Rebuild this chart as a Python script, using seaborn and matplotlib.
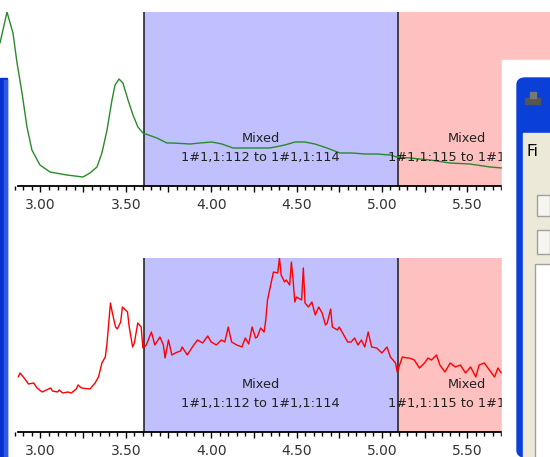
import numpy as np
import matplotlib
matplotlib.use("Agg")
import matplotlib.pyplot as plt
from matplotlib.patches import Rectangle, FancyBboxPatch
from matplotlib.ticker import FixedLocator, MultipleLocator
import seaborn as sns

# Top trace (green)
green_x = [2.763, 2.804, 2.839, 2.862, 2.892, 2.921, 2.950, 2.997, 3.056, 3.155,
           3.249, 3.290, 3.331, 3.360, 3.390, 3.419, 3.437, 3.460, 3.483, 3.513,
           3.542, 3.571, 3.600, 3.682, 3.741, 3.776, 3.876, 3.934, 4.004, 4.063,
           4.128, 4.198, 4.274, 4.344, 4.432, 4.491, 4.549, 4.608, 4.678, 4.755,
           4.825, 4.901, 4.971, 5.048, 5.089, 5.165, 5.282, 5.399, 5.516, 5.634,
           5.704]
green_y = [143, 174, 153, 124, 93, 59, 36, 21, 14, 11,
           9, 13, 19, 33, 56, 86, 101, 107, 103, 86,
           71, 59, 53, 48, 43, 43, 42, 43, 44, 42,
           38, 38, 38, 38, 41, 44, 44, 42, 38, 33,
           33, 32, 32, 31, 29, 28, 26, 23, 22, 19,
           18]

# Bottom trace (red)
red_x = [2.87, 2.88, 2.90, 2.93, 2.96, 2.98, 3.01, 3.06, 3.07, 3.10,
         3.11, 3.13, 3.16, 3.18, 3.21, 3.22, 3.24, 3.29, 3.32, 3.34,
         3.36, 3.38, 3.39, 3.41, 3.42, 3.44, 3.45, 3.47, 3.48, 3.51,
         3.52, 3.54, 3.55, 3.57, 3.59, 3.60, 3.62, 3.65, 3.67, 3.70,
         3.72, 3.73, 3.75, 3.77, 3.79, 3.82, 3.83, 3.86, 3.89, 3.92,
         3.95, 3.98, 4.00, 4.03, 4.06, 4.08, 4.10, 4.12, 4.15, 4.18,
         4.20, 4.22, 4.24, 4.26, 4.27, 4.29, 4.31, 4.32, 4.33, 4.355,
         4.365, 4.39, 4.40, 4.41, 4.43, 4.44, 4.46, 4.47, 4.48, 4.49,
         4.50, 4.53, 4.54, 4.55, 4.57, 4.59, 4.61, 4.63, 4.65, 4.67,
         4.68, 4.70, 4.71, 4.74, 4.75, 4.77, 4.80, 4.82, 4.84, 4.86,
         4.88, 4.90, 4.92, 4.94, 4.97, 5.00, 5.03, 5.05, 5.08, 5.09,
         5.11, 5.12, 5.15, 5.16, 5.19, 5.22, 5.25, 5.27, 5.29, 5.32,
         5.34, 5.37, 5.40, 5.43, 5.46, 5.49, 5.52, 5.55, 5.57, 5.60,
         5.63, 5.66, 5.68, 5.70]
red_y = [55, 59, 55, 48, 49, 44, 40, 44, 41, 40,
         42, 39, 40, 39, 43, 47, 44, 43, 49, 55,
         69, 75, 89, 129, 120, 105, 103, 110, 125, 120,
         105, 85, 89, 109, 105, 84, 87, 100, 87, 95,
         87, 74, 92, 77, 79, 81, 85, 77, 85, 92,
         89, 96, 90, 87, 92, 90, 105, 90, 87, 85,
         94, 88, 105, 94, 95, 104, 100, 112, 132, 152,
         160, 159, 174, 157, 150, 152, 147, 170, 152, 130,
         135, 132, 164, 129, 125, 130, 117, 125, 119, 107,
         109, 123, 105, 102, 105, 99, 90, 90, 94, 87,
         92, 85, 100, 85, 84, 79, 85, 75, 69, 60,
         70, 75, 74, 74, 72, 64, 69, 74, 72, 77,
         67, 60, 69, 65, 67, 59, 65, 55, 67, 69,
         62, 55, 64, 59]

# Shaded regions
region_start = [3.606, 5.094]
region_end = [5.094, 5.985]
region_color = ["#C0C0FF", "#FFC0C0"]
region_title = ["Mixed", "Mixed"]
region_range = ["1#1,1:112 to 1#1,1:114", "1#1,1:115 to 1#1,1:117"]
region_text_x = [4.29, 5.50]

tick_values = [3.00, 3.50, 4.00, 4.50, 5.00, 5.50]
tick_labels = ["3.00", "3.50", "4.00", "4.50", "5.00", "5.50"]

W, H = 550, 457
sns.set_style("white")
plt.rcParams["font.family"] = ["DejaVu Sans"]
fig = plt.figure(figsize=(W / 100, H / 100), dpi=100)


def px_axes(x0, y0, x1, y1):
    return fig.add_axes([x0 / W, 1 - y1 / H, (x1 - x0) / W, (y1 - y0) / H])


def draw_panel(ax, xs, ys, color):
    for s, e, c in zip(region_start, region_end, region_color):
        ax.axvspan(s, e, color=c, lw=0, zorder=0)
    for s in region_start:
        ax.axvline(s, color="#1a1a1a", lw=1.1, zorder=1)
    for t, r, tx in zip(region_title, region_range, region_text_x):
        ax.text(tx, 0.275, t, transform=ax.get_xaxis_transform(), ha="center",
                va="center", fontsize=9.3, color="#222222", zorder=3)
        ax.text(tx, 0.165, r, transform=ax.get_xaxis_transform(), ha="center",
                va="center", fontsize=9.3, color="#222222", zorder=3)
    sns.lineplot(x=xs, y=ys, ax=ax, color=color, lw=1, estimator=None,
                 sort=False, zorder=2)
    ax.set_xlim(2.763, 5.985)
    ax.set_ylim(0, 174)
    for side in ["top", "left", "right"]:
        ax.spines[side].set_visible(False)
    ax.spines["bottom"].set_bounds(2.868, 5.985)
    ax.spines["bottom"].set_linewidth(1.3)
    ax.spines["bottom"].set_color("black")
    ax.set_yticks([])
    major = np.arange(3.0, 5.99, 0.25)
    ax.xaxis.set_major_locator(FixedLocator(major))
    ax.set_xticklabels([tick_labels[tick_values.index(round(v, 2))]
                        if round(v, 2) in tick_values else "" for v in major])
    ax.xaxis.set_minor_locator(MultipleLocator(0.05))
    ax.tick_params(axis="x", which="major", direction="out", length=4.5,
                   width=1, color="black", labelsize=10, labelcolor="#333333",
                   pad=4, bottom=True)
    ax.tick_params(axis="x", which="minor", direction="out", length=3,
                   width=1, color="black", bottom=True)
    ax.set_xlabel("")
    ax.set_ylabel("")
    ax.patch.set_alpha(0)


ax1 = px_axes(0, 12, W, 186)
draw_panel(ax1, green_x, green_y, "#2A8A2A")
ax2 = px_axes(0, 258, W, 432)
draw_panel(ax2, red_x, red_y, "#FF0000")


# window fragments from the screenshot
def fig_rect(x0, y0, x1, y1, **kw):
    fig.add_artist(Rectangle((x0 / W, 1 - y1 / H), (x1 - x0) / W, (y1 - y0) / H,
                             transform=fig.transFigure, **kw))


fig_rect(0, 78, 7, H, color="#0A2FD0", zorder=10)
fig_rect(4, 80, 7, H, color="#2E5BE8", zorder=10)
fig_rect(502, 60, W, H, color="white", zorder=10)
fig.add_artist(FancyBboxPatch((517 / W, 0), 40 / W, 1 - 78 / H,
                              boxstyle="round,pad=0,rounding_size=0.015",
                              transform=fig.transFigure, color="#0A3FD8",
                              zorder=11))
fig_rect(523, 133, W, H, color="#ECE9D8", zorder=12)
fig_rect(525, 98, 540, 104, color="#555555", zorder=12)
fig_rect(530, 92, 536, 98, color="#777777", zorder=12)
fig.text(527 / W, 1 - 152 / H, "Fi", fontsize=11, color="black",
         va="center", ha="left", zorder=13)
fig_rect(537, 195, W, 216, facecolor="#F6F5F0", edgecolor="#A0A0A0", lw=1, zorder=13)
fig_rect(537, 230, W, 254, facecolor="#F6F5F0", edgecolor="#A0A0A0", lw=1, zorder=13)
fig_rect(535, 264, W + 2, H + 2, facecolor="white", edgecolor="#A0A0A0", lw=1, zorder=13)

fig.savefig("out.png", dpi=100)
